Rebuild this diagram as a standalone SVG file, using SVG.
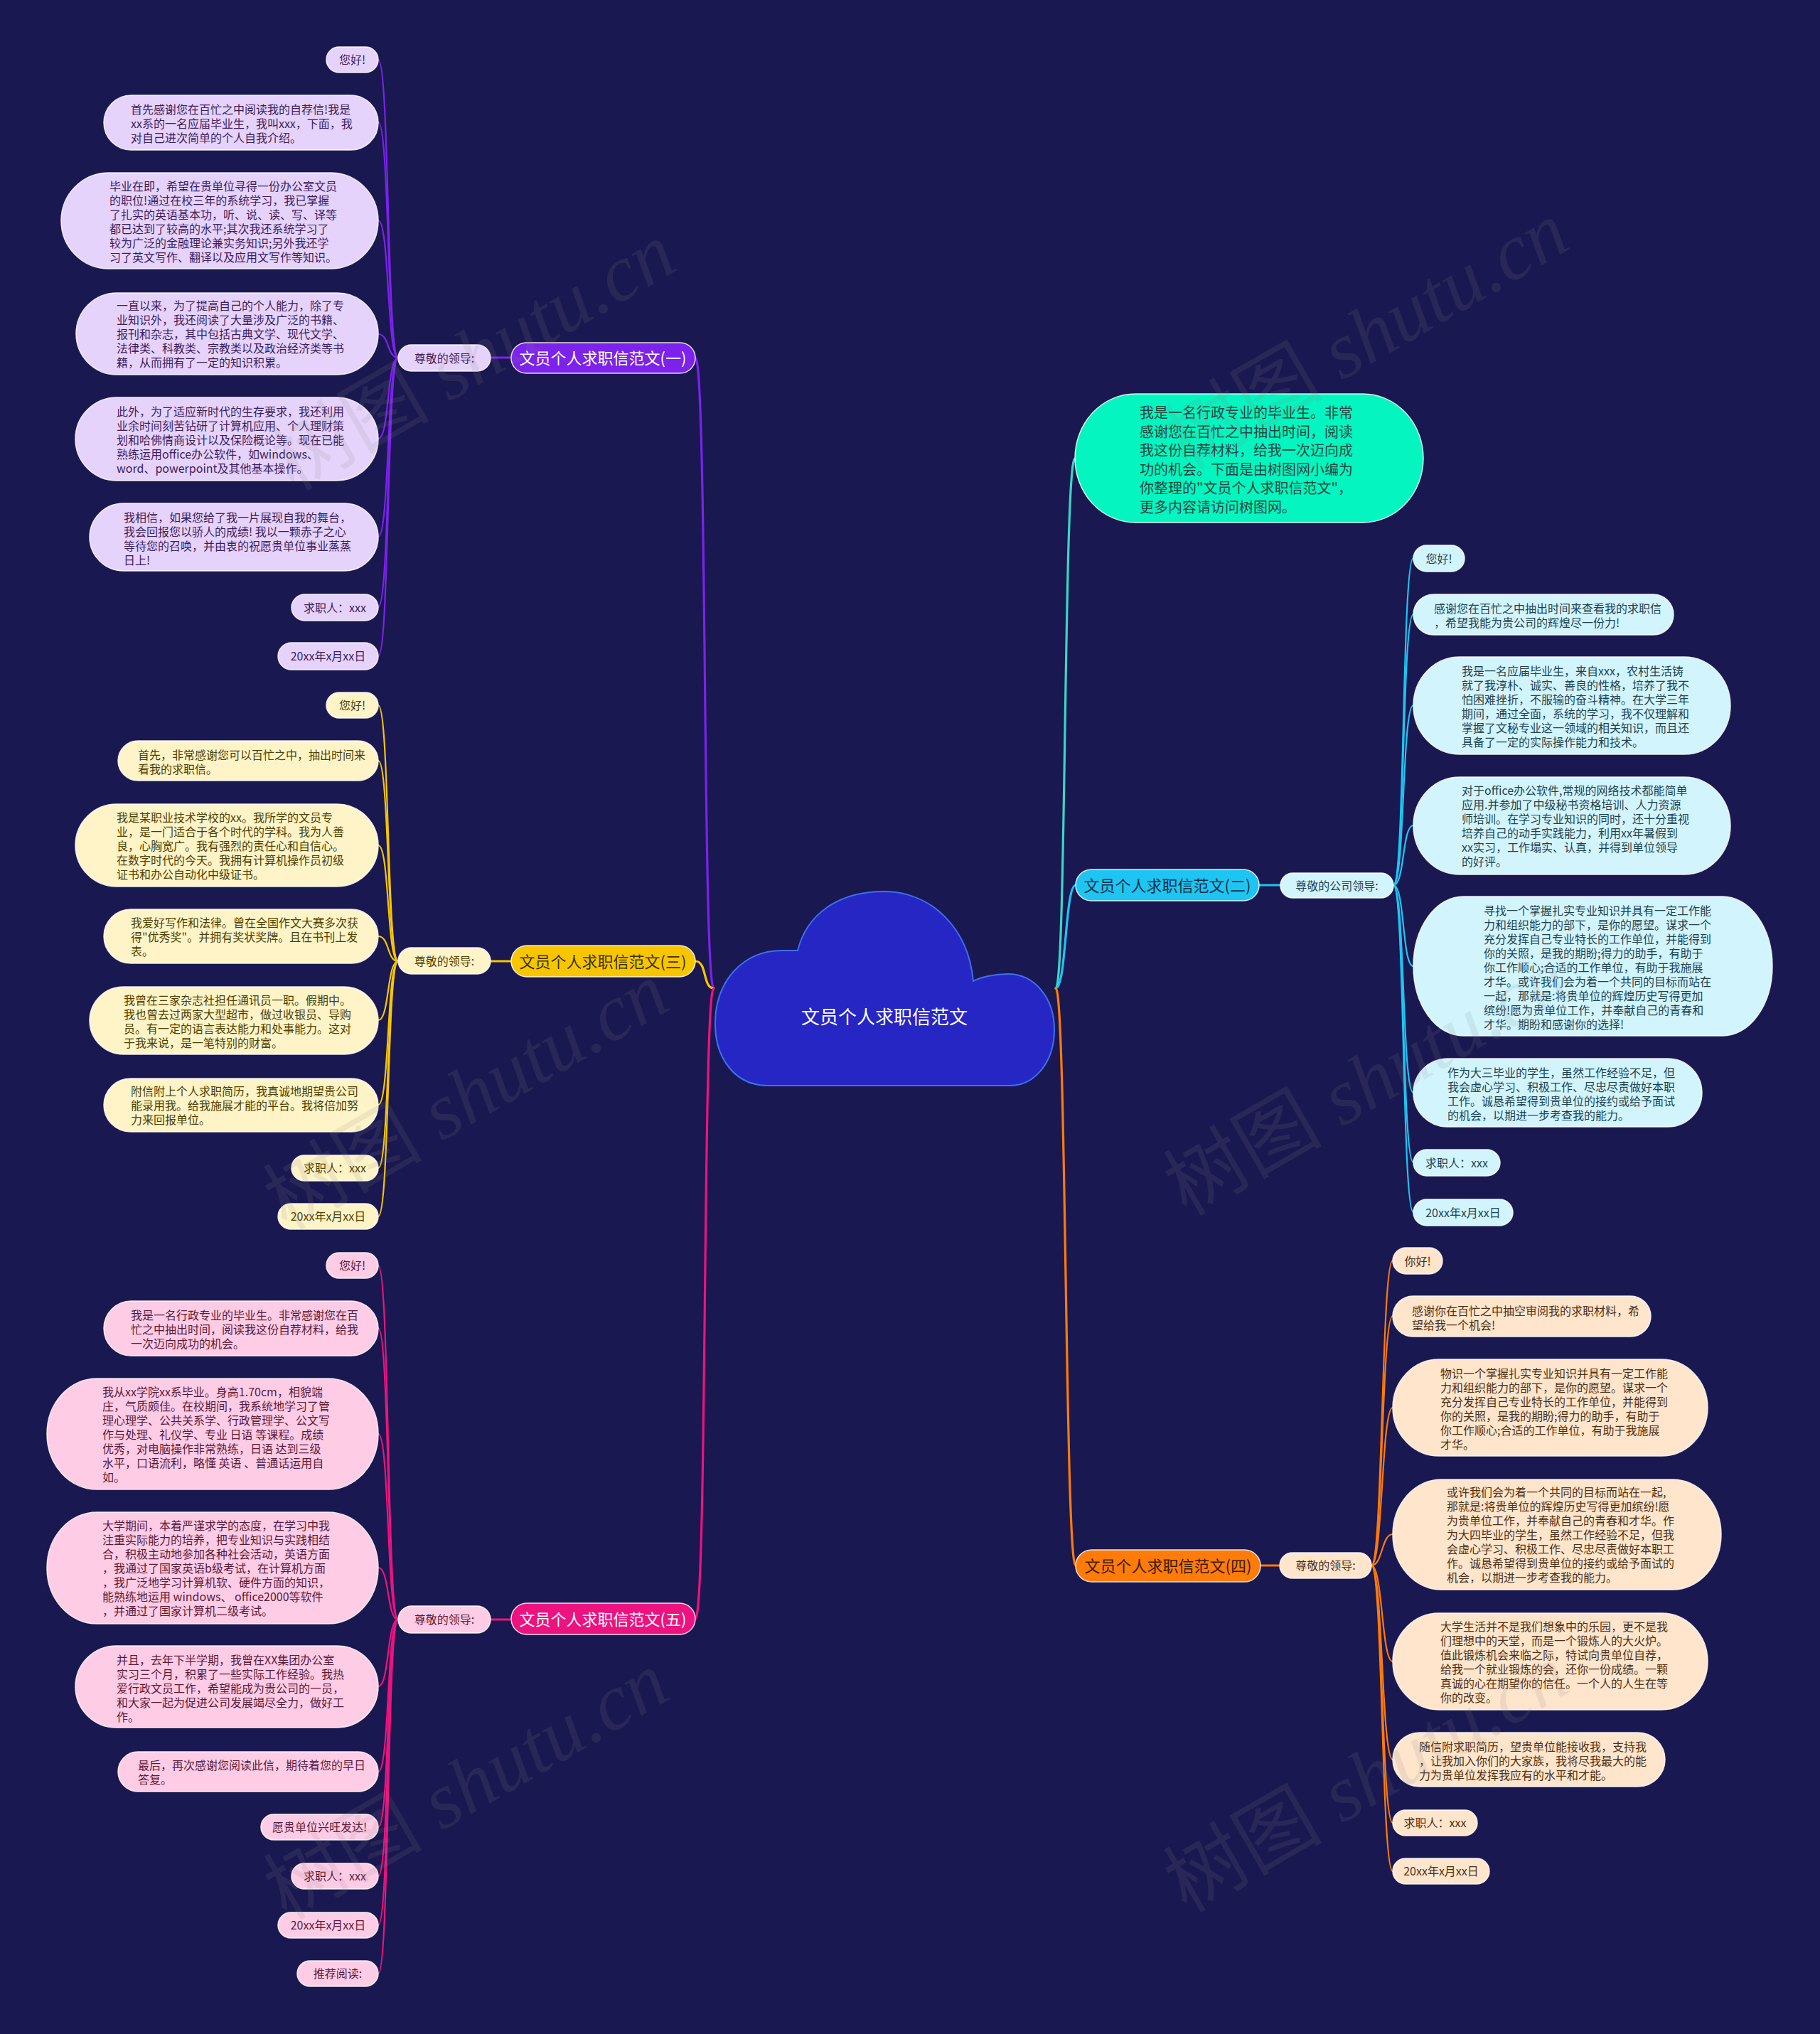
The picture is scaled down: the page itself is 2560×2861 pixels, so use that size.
<svg xmlns="http://www.w3.org/2000/svg" width="2560" height="2861" viewBox="0 0 2560 2861">
<style>
text{font-family:"Noto Sans CJK SC","Noto Sans",sans-serif;}
.lf text,.lf{font-size:16px;}
.n rect{stroke:#ffffff;stroke-opacity:0.85;stroke-width:1.5;}
.c{fill:none;stroke-linecap:round;}
.m{stroke-width:3.2;}
.s{stroke-width:2.2;}
.p1 rect{fill:#e6d3fb;} .p1 text{fill:#3b1d5e;}
.p3 rect{fill:#fff4c8;} .p3 text{fill:#4d4000;}
.p5 rect{fill:#ffcce6;} .p5 text{fill:#5a1a38;}
.p2 rect{fill:#d2f5fd;} .p2 text{fill:#1d4252;}
.p4 rect{fill:#ffe5cc;} .p4 text{fill:#4d3015;}
.mid{text-anchor:middle;}
.wm{font-family:"Liberation Serif","Noto Sans CJK SC",serif;font-size:112px;fill:#8a8a8a;fill-opacity:0.14;text-anchor:middle;}
</style>
<rect x="0" y="0" width="2560" height="2861" fill="#1a1850"/>

<g id="connectors">
  <path class="c m" stroke="#7c22ea" d="M1004 1390 C988 1390 995 503 978 503"/>
  <path class="c m" stroke="#f7c600" d="M1004 1390 C988 1390 995 1352 978 1352"/>
  <path class="c m" stroke="#ec1380" d="M1004 1390 C988 1390 995 2277 978 2277"/>
  <path class="c m" stroke="#3ad6c6" d="M1485 1390 C1500 1390 1496 645 1512 645"/>
  <path class="c m" stroke="#1ec5f2" d="M1485 1390 C1500 1390 1498 1245 1513 1245"/>
  <path class="c m" stroke="#ff7b0a" d="M1485 1390 C1500 1390 1498 2202 1513 2202"/>
  <path class="c m" stroke="#7c22ea" d="M690 503 L719 503"/>
  <path class="c m" stroke="#f7c600" d="M690 1352 L719 1352"/>
  <path class="c m" stroke="#ec1380" d="M690 2278 L719 2278"/>
  <path class="c m" stroke="#1ec5f2" d="M1771 1245 L1801 1245"/>
  <path class="c m" stroke="#ff7b0a" d="M1773 2202 L1800 2202"/>
  <g stroke="#7c22ea" class="c s">
    <path d="M560 503 C544 503 548 84 532 84"/><path d="M560 503 C544 503 548 172 532 172"/><path d="M560 503 C544 503 548 310 532 310"/><path d="M560 503 C544 503 548 470 532 470"/><path d="M560 503 C544 503 548 617 532 617"/><path d="M560 503 C544 503 548 755 532 755"/><path d="M560 503 C544 503 548 854 532 854"/><path d="M560 503 C544 503 548 923 532 923"/>
  </g>
  <g stroke="#f7c600" class="c s">
    <path d="M560 1352 C544 1352 548 992 532 992"/><path d="M560 1352 C544 1352 548 1070 532 1070"/><path d="M560 1352 C544 1352 548 1189 532 1189"/><path d="M560 1352 C544 1352 548 1317 532 1317"/><path d="M560 1352 C544 1352 548 1435 532 1435"/><path d="M560 1352 C544 1352 548 1554 532 1554"/><path d="M560 1352 C544 1352 548 1643 532 1643"/><path d="M560 1352 C544 1352 548 1711 532 1711"/>
  </g>
  <g stroke="#ec1380" class="c s">
    <path d="M560 2278 C544 2278 548 1780 532 1780"/><path d="M560 2278 C544 2278 548 1868 532 1868"/><path d="M560 2278 C544 2278 548 2017 532 2017"/><path d="M560 2278 C544 2278 548 2205 532 2205"/><path d="M560 2278 C544 2278 548 2372 532 2372"/><path d="M560 2278 C544 2278 548 2492 532 2492"/><path d="M560 2278 C544 2278 548 2570 532 2570"/><path d="M560 2278 C544 2278 548 2639 532 2639"/><path d="M560 2278 C544 2278 548 2708 532 2708"/><path d="M560 2278 C544 2278 548 2776 532 2776"/>
  </g>
  <g stroke="#1ec5f2" class="c s">
    <path d="M1960 1245 C1976 1245 1972 785 1988 785"/><path d="M1960 1245 C1976 1245 1972 864 1988 864"/><path d="M1960 1245 C1976 1245 1972 992 1988 992"/><path d="M1960 1245 C1976 1245 1972 1161 1988 1161"/><path d="M1960 1245 C1976 1245 1972 1359 1988 1359"/><path d="M1960 1245 C1976 1245 1972 1537 1988 1537"/><path d="M1960 1245 C1976 1245 1972 1635 1988 1635"/><path d="M1960 1245 C1976 1245 1972 1705 1988 1705"/>
  </g>
  <g stroke="#ff7b0a" class="c s">
    <path d="M1929 2202 C1945 2202 1943 1773 1959 1773"/><path d="M1929 2202 C1945 2202 1943 1851 1959 1851"/><path d="M1929 2202 C1945 2202 1943 1980 1959 1980"/><path d="M1929 2202 C1945 2202 1943 2158 1959 2158"/><path d="M1929 2202 C1945 2202 1943 2337 1959 2337"/><path d="M1929 2202 C1945 2202 1943 2475 1959 2475"/><path d="M1929 2202 C1945 2202 1943 2564 1959 2564"/><path d="M1929 2202 C1945 2202 1943 2632 1959 2632"/>
  </g>
</g>

<g id="root">
  <path d="M1080 1527 C1035 1527 1006 1490 1006 1440 C1006 1380 1045 1337 1100 1337 L1122 1337 C1135 1285 1180 1254 1243 1254 C1310 1254 1362 1305 1369 1380 C1380 1374 1400 1370 1418 1370 C1456 1370 1483 1405 1483 1448 C1483 1495 1455 1527 1420 1527 Z" fill="#2626c4" stroke="#3c70f0" stroke-width="2"/>
  <text x="1244" y="1440" class="mid" font-size="26" fill="#ffffff">文员个人求职信范文</text>
</g>

<g id="intro" class="n">
  <rect x="1512" y="554" width="490" height="181" rx="85" ry="90.5" fill="#05f5c1"/>
  <text font-size="20" fill="#24463f"><tspan x="1603" y="588">我是一名行政专业的毕业生。非常</tspan><tspan x="1603" y="614.5">感谢您在百忙之中抽出时间，阅读</tspan><tspan x="1603" y="641">我这份自荐材料，给我一次迈向成</tspan><tspan x="1603" y="667.5">功的机会。下面是由树图网小编为</tspan><tspan x="1603" y="694">你整理的"文员个人求职信范文"，</tspan><tspan x="1603" y="720.5">更多内容请访问树图网。</tspan></text>
</g>

<!-- Branch 1 -->
<g id="b1" class="n">
  <rect x="719" y="482" width="259" height="43" rx="21.5" fill="#7c22ea"/>
  <text x="848" y="511.5" class="mid" font-size="22" fill="#ffffff">文员个人求职信范文(一)</text>
</g>
<g id="b1s" class="n p1 lf">
  <rect x="560" y="485" width="130" height="37" rx="18.5"/>
  <text x="625" y="509.5" class="mid">尊敬的领导:</text>
</g>
<g id="b1l" class="n p1 lf">
  <g id="b1l1"><rect x="459" y="66" width="73" height="36" rx="18"/><text x="495.5" y="90" class="mid">您好!</text></g>
  <g id="b1l2"><rect x="146" y="134" width="386" height="77" rx="38.5"/><text><tspan x="184" y="160">首先感谢您在百忙之中阅读我的自荐信!我是</tspan><tspan x="184" y="180">xx系的一名应届毕业生，我叫xxx，下面，我</tspan><tspan x="184" y="200">对自己进次简单的个人自我介绍。</tspan></text></g>
  <g id="b1l3"><rect x="86" y="243" width="446" height="135" rx="67" ry="67.5"/><text><tspan x="154" y="268">毕业在即，希望在贵单位寻得一份办公室文员</tspan><tspan x="154" y="288">的职位!通过在校三年的系统学习，我已掌握</tspan><tspan x="154" y="308">了扎实的英语基本功，听、说、读、写、译等</tspan><tspan x="154" y="328">都已达到了较高的水平;其次我还系统学习了</tspan><tspan x="154" y="348">较为广泛的金融理论兼实务知识;另外我还学</tspan><tspan x="154" y="368">习了英文写作、翻译以及应用文写作等知识。</tspan></text></g>
  <g id="b1l4"><rect x="107" y="412" width="425" height="115" rx="57.5"/><text><tspan x="164" y="436">一直以来，为了提高自己的个人能力，除了专</tspan><tspan x="164" y="456">业知识外，我还阅读了大量涉及广泛的书籍、</tspan><tspan x="164" y="476">报刊和杂志，其中包括古典文学、现代文学、</tspan><tspan x="164" y="496">法律类、科教类、宗教类以及政治经济类等书</tspan><tspan x="164" y="516">籍，从而拥有了一定的知识积累。</tspan></text></g>
  <g id="b1l5"><rect x="106" y="559" width="426" height="117" rx="58.5"/><text><tspan x="164" y="585">此外，为了适应新时代的生存要求，我还利用</tspan><tspan x="164" y="605">业余时间刻苦钻研了计算机应用、个人理财策</tspan><tspan x="164" y="625">划和哈佛情商设计以及保险概论等。现在已能</tspan><tspan x="164" y="645">熟练运用office办公软件，如windows、</tspan><tspan x="164" y="665">word、powerpoint及其他基本操作。</tspan></text></g>
  <g id="b1l6"><rect x="126" y="708" width="406" height="95" rx="47.5"/><text><tspan x="174" y="734">我相信，如果您给了我一片展现自我的舞台，</tspan><tspan x="174" y="754">我会回报您以骄人的成绩! 我以一颗赤子之心</tspan><tspan x="174" y="774">等待您的召唤，并由衷的祝愿贵单位事业蒸蒸</tspan><tspan x="174" y="794">日上!</tspan></text></g>
  <g id="b1l7"><rect x="410" y="836" width="122" height="37" rx="18.5"/><text x="471" y="860.5" class="mid">求职人：xxx</text></g>
  <g id="b1l8"><rect x="391" y="904" width="141" height="38" rx="19"/><text x="461.5" y="929" class="mid">20xx年x月xx日</text></g>
</g>

<!-- Branch 3 -->
<g id="b3" class="n">
  <rect x="719" y="1330" width="259" height="44" rx="22" fill="#f7c600"/>
  <text x="848" y="1360.5" class="mid" font-size="22" fill="#3d3000">文员个人求职信范文(三)</text>
</g>
<g id="b3s" class="n p3 lf">
  <rect x="560" y="1333" width="130" height="37" rx="18.5"/>
  <text x="625" y="1357.5" class="mid">尊敬的领导:</text>
</g>
<g id="b3l" class="n p3 lf">
  <g id="b3l1"><rect x="459" y="974" width="73" height="36" rx="18"/><text x="495.5" y="998" class="mid">您好!</text></g>
  <g id="b3l2"><rect x="166" y="1042" width="366" height="56" rx="28"/><text><tspan x="194" y="1068">首先，非常感谢您可以百忙之中，抽出时间来</tspan><tspan x="194" y="1088">看我的求职信。</tspan></text></g>
  <g id="b3l3"><rect x="106" y="1131" width="426" height="116" rx="58"/><text><tspan x="164" y="1156">我是某职业技术学校的xx。我所学的文员专</tspan><tspan x="164" y="1176">业，是一门适合于各个时代的学科。我为人善</tspan><tspan x="164" y="1196">良，心胸宽广。我有强烈的责任心和自信心。</tspan><tspan x="164" y="1216">在数字时代的今天。我拥有计算机操作员初级</tspan><tspan x="164" y="1236">证书和办公自动化中级证书。</tspan></text></g>
  <g id="b3l4"><rect x="146" y="1279" width="386" height="76" rx="38"/><text><tspan x="184" y="1304">我爱好写作和法律。曾在全国作文大赛多次获</tspan><tspan x="184" y="1324">得"优秀奖"。并拥有奖状奖牌。且在书刊上发</tspan><tspan x="184" y="1344">表。</tspan></text></g>
  <g id="b3l5"><rect x="126" y="1388" width="406" height="95" rx="47.5"/><text><tspan x="174" y="1413">我曾在三家杂志社担任通讯员一职。假期中。</tspan><tspan x="174" y="1433">我也曾去过两家大型超市，做过收银员、导购</tspan><tspan x="174" y="1453">员。有一定的语言表达能力和处事能力。这对</tspan><tspan x="174" y="1473">于我来说，是一笔特别的财富。</tspan></text></g>
  <g id="b3l6"><rect x="146" y="1517" width="386" height="75" rx="37.5"/><text><tspan x="184" y="1541">附信附上个人求职简历，我真诚地期望贵公司</tspan><tspan x="184" y="1561">能录用我。给我施展才能的平台。我将倍加努</tspan><tspan x="184" y="1581">力来回报单位。</tspan></text></g>
  <g id="b3l7"><rect x="410" y="1625" width="122" height="36" rx="18"/><text x="471" y="1649" class="mid">求职人：xxx</text></g>
  <g id="b3l8"><rect x="391" y="1693" width="141" height="36" rx="18"/><text x="461.5" y="1717" class="mid">20xx年x月xx日</text></g>
</g>

<!-- Branch 5 -->
<g id="b5" class="n">
  <rect x="719" y="2255" width="259" height="44" rx="22" fill="#ec1380"/>
  <text x="848" y="2285.5" class="mid" font-size="22" fill="#ffffff">文员个人求职信范文(五)</text>
</g>
<g id="b5s" class="n p5 lf">
  <rect x="560" y="2259" width="130" height="38" rx="19"/>
  <text x="625" y="2284" class="mid">尊敬的领导:</text>
</g>
<g id="b5l" class="n p5 lf">
  <g id="b5l1"><rect x="459" y="1762" width="73" height="36" rx="18"/><text x="495.5" y="1786" class="mid">您好!</text></g>
  <g id="b5l2"><rect x="146" y="1830" width="386" height="77" rx="38.5"/><text><tspan x="184" y="1856">我是一名行政专业的毕业生。非常感谢您在百</tspan><tspan x="184" y="1876">忙之中抽出时间，阅读我这份自荐材料，给我</tspan><tspan x="184" y="1896">一次迈向成功的机会。</tspan></text></g>
  <g id="b5l3"><rect x="66" y="1939" width="466" height="156" rx="70" ry="78"/><text><tspan x="144" y="1964">我从xx学院xx系毕业。身高1.70cm，相貌端</tspan><tspan x="144" y="1984">庄，气质颇佳。在校期间，我系统地学习了管</tspan><tspan x="144" y="2004">理心理学、公共关系学、行政管理学、公文写</tspan><tspan x="144" y="2024">作与处理、礼仪学、专业 日语 等课程。成绩</tspan><tspan x="144" y="2044">优秀，对电脑操作非常熟练，日语 达到三级</tspan><tspan x="144" y="2064">水平，口语流利，略懂 英语 、普通话运用自</tspan><tspan x="144" y="2084">如。</tspan></text></g>
  <g id="b5l4"><rect x="66" y="2127" width="466" height="157" rx="70" ry="78.5"/><text><tspan x="144" y="2152">大学期间，本着严谨求学的态度，在学习中我</tspan><tspan x="144" y="2172">注重实际能力的培养，把专业知识与实践相结</tspan><tspan x="144" y="2192">合，积极主动地参加各种社会活动，英语方面</tspan><tspan x="144" y="2212">，我通过了国家英语b级考试，在计算机方面</tspan><tspan x="144" y="2232">，我广泛地学习计算机软、硬件方面的知识，</tspan><tspan x="144" y="2252">能熟练地运用 windows、 office2000等软件</tspan><tspan x="144" y="2272">，并通过了国家计算机二级考试。</tspan></text></g>
  <g id="b5l5"><rect x="106" y="2315" width="426" height="115" rx="57.5"/><text><tspan x="164" y="2341">并且，去年下半学期，我曾在XX集团办公室</tspan><tspan x="164" y="2361">实习三个月，积累了一些实际工作经验。我热</tspan><tspan x="164" y="2381">爱行政文员工作，希望能成为贵公司的一员，</tspan><tspan x="164" y="2401">和大家一起为促进公司发展竭尽全力，做好工</tspan><tspan x="164" y="2421">作。</tspan></text></g>
  <g id="b5l6"><rect x="166" y="2464" width="366" height="56" rx="28"/><text><tspan x="194" y="2489">最后，再次感谢您阅读此信，期待着您的早日</tspan><tspan x="194" y="2509">答复。</tspan></text></g>
  <g id="b5l7"><rect x="367" y="2552" width="165" height="36" rx="18"/><text x="449.5" y="2576" class="mid">愿贵单位兴旺发达!</text></g>
  <g id="b5l8"><rect x="410" y="2621" width="122" height="36" rx="18"/><text x="471" y="2645" class="mid">求职人：xxx</text></g>
  <g id="b5l9"><rect x="391" y="2690" width="141" height="36" rx="18"/><text x="461.5" y="2714" class="mid">20xx年x月xx日</text></g>
  <g id="b5l10"><rect x="418" y="2758" width="114" height="36" rx="18"/><text x="475" y="2782" class="mid">推荐阅读:</text></g>
</g>

<!-- Branch 2 -->
<g id="b2" class="n">
  <rect x="1513" y="1223" width="258" height="44" rx="22" fill="#1ec5f2"/>
  <text x="1642" y="1253.5" class="mid" font-size="22" fill="#0e2f45">文员个人求职信范文(二)</text>
</g>
<g id="b2s" class="n p2 lf">
  <rect x="1801" y="1228" width="159" height="35" rx="17.5"/>
  <text x="1880.5" y="1251.5" class="mid">尊敬的公司领导:</text>
</g>
<g id="b2l" class="n p2 lf">
  <g id="b2l1"><rect x="1988" y="767" width="72" height="37" rx="18.5"/><text x="2024" y="791.5" class="mid">您好!</text></g>
  <g id="b2l2"><rect x="1988" y="836" width="366" height="57" rx="28.5"/><text><tspan x="2017" y="862">感谢您在百忙之中抽出时间来查看我的求职信</tspan><tspan x="2017" y="882">，希望我能为贵公司的辉煌尽一份力!</tspan></text></g>
  <g id="b2l3"><rect x="1988" y="924" width="446" height="137" rx="65" ry="68.5"/><text><tspan x="2056" y="950">我是一名应届毕业生，来自xxx，农村生活铸</tspan><tspan x="2056" y="970">就了我淳朴、诚实、善良的性格，培养了我不</tspan><tspan x="2056" y="990">怕困难挫折，不服输的奋斗精神。在大学三年</tspan><tspan x="2056" y="1010">期间，通过全面，系统的学习，我不仅理解和</tspan><tspan x="2056" y="1030">掌握了文秘专业这一领域的相关知识，而且还</tspan><tspan x="2056" y="1050">具备了一定的实际操作能力和技术。</tspan></text></g>
  <g id="b2l4"><rect x="1988" y="1093" width="446" height="137" rx="65" ry="68.5"/><text><tspan x="2056" y="1118">对于office办公软件,常规的网络技术都能简单</tspan><tspan x="2056" y="1138">应用.并参加了中级秘书资格培训、人力资源</tspan><tspan x="2056" y="1158">师培训。在学习专业知识的同时，还十分重视</tspan><tspan x="2056" y="1178">培养自己的动手实践能力，利用xx年暑假到</tspan><tspan x="2056" y="1198">xx实习，工作塌实、认真，并得到单位领导</tspan><tspan x="2056" y="1218">的好评。</tspan></text></g>
  <g id="b2l5"><rect x="1988" y="1261" width="505" height="196" rx="70" ry="98"/><text><tspan x="2087" y="1287">寻找一个掌握扎实专业知识并具有一定工作能</tspan><tspan x="2087" y="1307">力和组织能力的部下，是你的愿望。谋求一个</tspan><tspan x="2087" y="1327">充分发挥自己专业特长的工作单位，并能得到</tspan><tspan x="2087" y="1347">你的关照，是我的期盼;得力的助手，有助于</tspan><tspan x="2087" y="1367">你工作顺心;合适的工作单位，有助于我施展</tspan><tspan x="2087" y="1387">才华。或许我们会为着一个共同的目标而站在</tspan><tspan x="2087" y="1407">一起，那就是:将贵单位的辉煌历史写得更加</tspan><tspan x="2087" y="1427">缤纷!愿为贵单位工作，并奉献自己的青春和</tspan><tspan x="2087" y="1447">才华。期盼和感谢你的选择!</tspan></text></g>
  <g id="b2l6"><rect x="1988" y="1489" width="406" height="96" rx="48"/><text><tspan x="2036" y="1515">作为大三毕业的学生，虽然工作经验不足，但</tspan><tspan x="2036" y="1535">我会虚心学习、积极工作、尽忠尽责做好本职</tspan><tspan x="2036" y="1555">工作。诚恳希望得到贵单位的接约或给予面试</tspan><tspan x="2036" y="1575">的机会，以期进一步考查我的能力。</tspan></text></g>
  <g id="b2l7"><rect x="1988" y="1617" width="122" height="37" rx="18.5"/><text x="2049" y="1641.5" class="mid">求职人：xxx</text></g>
  <g id="b2l8"><rect x="1988" y="1687" width="140" height="37" rx="18.5"/><text x="2058" y="1711.5" class="mid">20xx年x月xx日</text></g>
</g>

<!-- Branch 4 -->
<g id="b4" class="n">
  <rect x="1513" y="2180" width="260" height="45" rx="22.5" fill="#ff7b0a"/>
  <text x="1643" y="2210.5" class="mid" font-size="22" fill="#3a1a00">文员个人求职信范文(四)</text>
</g>
<g id="b4s" class="n p4 lf">
  <rect x="1800" y="2184" width="129" height="36" rx="18"/>
  <text x="1864.5" y="2208" class="mid">尊敬的领导:</text>
</g>
<g id="b4l" class="n p4 lf">
  <g id="b4l1"><rect x="1959" y="1755" width="70" height="37" rx="18.5"/><text x="1994" y="1779.5" class="mid">你好!</text></g>
  <g id="b4l2"><rect x="1959" y="1823" width="363" height="57" rx="28.5"/><text><tspan x="1986" y="1850">感谢你在百忙之中抽空审阅我的求职材料，希</tspan><tspan x="1986" y="1870">望给我一个机会!</tspan></text></g>
  <g id="b4l3"><rect x="1959" y="1912" width="443" height="136" rx="65" ry="68"/><text><tspan x="2026" y="1938">物识一个掌握扎实专业知识并具有一定工作能</tspan><tspan x="2026" y="1958">力和组织能力的部下，是你的愿望。谋求一个</tspan><tspan x="2026" y="1978">充分发挥自己专业特长的工作单位，并能得到</tspan><tspan x="2026" y="1998">你的关照，是我的期盼;得力的助手，有助于</tspan><tspan x="2026" y="2018">你工作顺心;合适的工作单位，有助于我施展</tspan><tspan x="2026" y="2038">才华。</tspan></text></g>
  <g id="b4l4"><rect x="1959" y="2081" width="462" height="155" rx="68" ry="77.5"/><text><tspan x="2035" y="2105">或许我们会为着一个共同的目标而站在一起,</tspan><tspan x="2035" y="2125">那就是:将贵单位的辉煌历史写得更加缤纷!愿</tspan><tspan x="2035" y="2145">为贵单位工作，并奉献自己的青春和才华。作</tspan><tspan x="2035" y="2165">为大四毕业的学生，虽然工作经验不足，但我</tspan><tspan x="2035" y="2185">会虚心学习、积极工作、尽忠尽责做好本职工</tspan><tspan x="2035" y="2205">作。诚恳希望得到贵单位的接约或给予面试的</tspan><tspan x="2035" y="2225">机会，以期进一步考查我的能力。</tspan></text></g>
  <g id="b4l5"><rect x="1959" y="2269" width="443" height="136" rx="65" ry="68"/><text><tspan x="2026" y="2294">大学生活并不是我们想象中的乐园，更不是我</tspan><tspan x="2026" y="2314">们理想中的天堂，而是一个锻炼人的大火炉。</tspan><tspan x="2026" y="2334">值此锻炼机会来临之际，特试向贵单位自荐，</tspan><tspan x="2026" y="2354">给我一个就业锻炼的会，还你一份成绩。一颗</tspan><tspan x="2026" y="2374">真诚的心在期望你的信任。一个人的人生在等</tspan><tspan x="2026" y="2394">你的改变。</tspan></text></g>
  <g id="b4l6"><rect x="1959" y="2437" width="383" height="76" rx="38"/><text><tspan x="1996" y="2463">随信附求职简历，望贵单位能接收我，支持我</tspan><tspan x="1996" y="2483">，让我加入你们的大家族，我将尽我最大的能</tspan><tspan x="1996" y="2503">力为贵单位发挥我应有的水平和才能。</tspan></text></g>
  <g id="b4l7"><rect x="1959" y="2546" width="119" height="36" rx="18"/><text x="2018.5" y="2570" class="mid">求职人：xxx</text></g>
  <g id="b4l8"><rect x="1959" y="2614" width="136" height="36" rx="18"/><text x="2027" y="2638" class="mid">20xx年x月xx日</text></g>
</g>

<g id="watermark">
  <text class="wm" transform="rotate(-30 665 500)" x="665" y="540">树图 <tspan font-style="italic">shutu.cn</tspan></text>
  <text class="wm" transform="rotate(-30 655 1540)" x="655" y="1580">树图 <tspan font-style="italic">shutu.cn</tspan></text>
  <text class="wm" transform="rotate(-30 655 2510)" x="655" y="2550">树图 <tspan font-style="italic">shutu.cn</tspan></text>
  <text class="wm" transform="rotate(-30 1921 470)" x="1921" y="510">树图 <tspan font-style="italic">shutu.cn</tspan></text>
  <text class="wm" transform="rotate(-30 1921 1520)" x="1921" y="1560">树图 <tspan font-style="italic">shutu.cn</tspan></text>
  <text class="wm" transform="rotate(-30 1921 2500)" x="1921" y="2540">树图 <tspan font-style="italic">shutu.cn</tspan></text>
</g>
</svg>
